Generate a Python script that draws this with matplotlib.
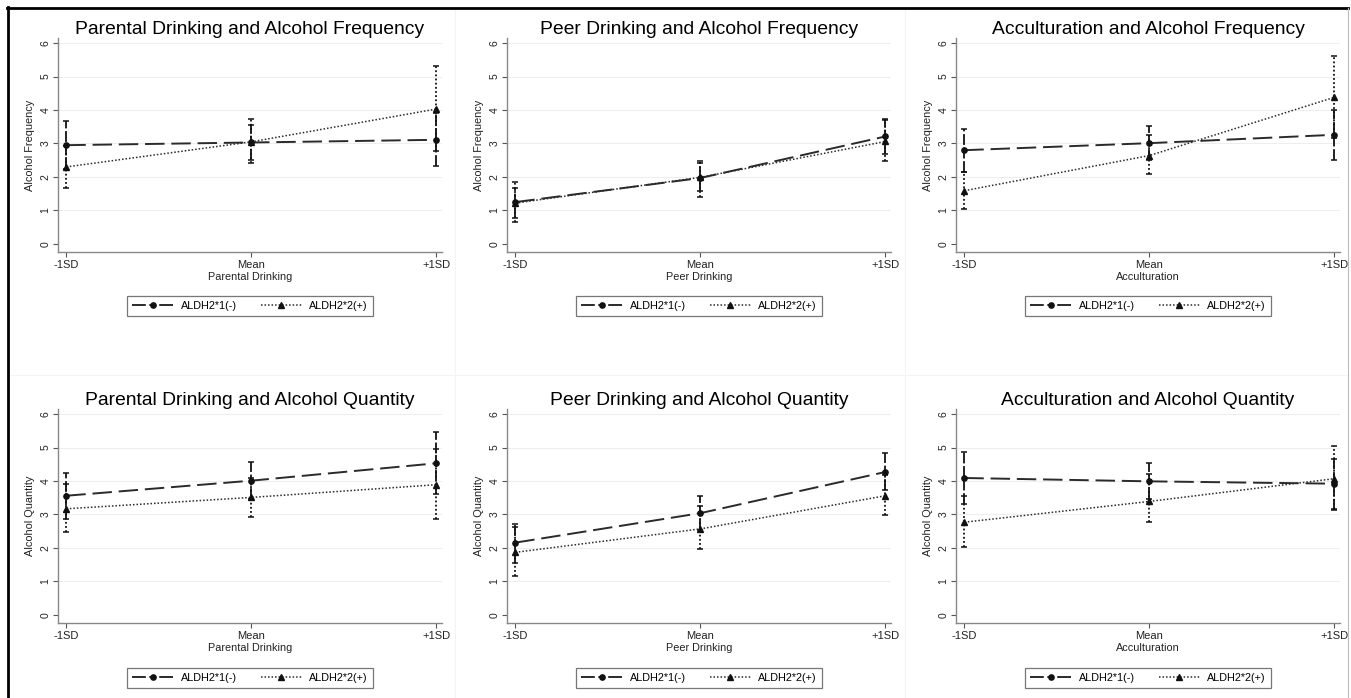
import matplotlib
matplotlib.use("Agg")
import matplotlib.pyplot as plt
from matplotlib.lines import Line2D

plt.rcParams['font.family'] = ['Liberation Sans', 'DejaVu Sans']

# Data
x_labels = ['-1SD', 'Mean', '+1SD']
titles = ['Parental Drinking and Alcohol Frequency', 'Peer Drinking and Alcohol Frequency',
          'Acculturation and Alcohol Frequency', 'Parental Drinking and Alcohol Quantity',
          'Peer Drinking and Alcohol Quantity', 'Acculturation and Alcohol Quantity']
x_titles = ['Parental Drinking', 'Peer Drinking', 'Acculturation'] * 2
y_titles = ['Alcohol Frequency'] * 3 + ['Alcohol Quantity'] * 3
series_names = ['ALDH2*1(-)', 'ALDH2*2(+)']

aldh1_mean = [[2.95, 3.03, 3.11], [1.25, 1.97, 3.21], [2.80, 3.01, 3.26],
              [3.56, 4.01, 4.53], [2.16, 3.04, 4.27], [4.09, 3.99, 3.92]]
aldh1_lo = [[2.25, 2.50, 2.32], [0.78, 1.57, 2.69], [2.15, 2.52, 2.52],
            [2.87, 3.46, 3.61], [1.56, 2.54, 3.72], [3.31, 3.45, 3.14]]
aldh1_hi = [[3.66, 3.56, 3.91], [1.67, 2.42, 3.73], [3.43, 3.53, 4.01],
            [4.24, 4.56, 5.45], [2.72, 3.54, 4.83], [4.88, 4.54, 4.66]]

aldh2_mean = [[2.30, 3.05, 4.03], [1.22, 1.99, 3.06], [1.59, 2.64, 4.38],
              [3.17, 3.51, 3.89], [1.87, 2.57, 3.56], [2.77, 3.39, 4.07]]
aldh2_lo = [[1.67, 2.42, 2.78], [0.65, 1.40, 2.47], [1.04, 2.10, 3.15],
            [2.47, 2.92, 2.88], [1.15, 1.97, 2.99], [2.02, 2.77, 3.16]]
aldh2_hi = [[2.92, 3.73, 5.30], [1.84, 2.49, 3.70], [2.15, 3.25, 5.60],
            [3.92, 4.10, 4.95], [2.64, 3.24, 4.19], [3.54, 4.20, 5.05]]

W, H = 1351, 698
fig = plt.figure(figsize=(W / 100, H / 100), dpi=100)

lefts = [58, 507, 956]
bottoms = [252, 623]
ax_w, ax_h = 384, 214

dash_ls = (0, (10, 3.5))
dot_ls = (0, (1, 1.3))
legend_dash = (0, (7.1, 1.8, 3.3, 1.8))
pos = [0, 1, 2]

for i in range(6):
    r, c = divmod(i, 3)
    ax = fig.add_axes([lefts[c] / W, 1 - bottoms[r] / H, ax_w / W, ax_h / H])

    for y in range(1, 7):
        ax.axhline(y, color='#eeeeee', lw=0.8, zorder=0)

    for mean, lo, hi, ls, mk in [
            (aldh1_mean[i], aldh1_lo[i], aldh1_hi[i], dash_ls, 'o'),
            (aldh2_mean[i], aldh2_lo[i], aldh2_hi[i], dot_ls, '^')]:
        err = [[m - l for m, l in zip(mean, lo)], [h - m for m, h in zip(mean, hi)]]
        eb = ax.errorbar(pos, mean, yerr=err, fmt='none', ecolor='#111111',
                         elinewidth=1.3, capsize=2.5, capthick=1.1, zorder=3)
        eb[2][0].set_linestyle((0, (6, 1.5)) if ls == dash_ls else dot_ls)
        ax.plot(pos, mean, color='#2a2a2a', lw=1.4 if ls == dash_ls else 1.1,
                linestyle=ls, marker=mk, markersize=3.8, markerfacecolor='#111111',
                markeredgecolor='#111111', zorder=4)

    ax.set_xlim(-0.045, 2.03)
    ax.set_ylim(-0.24, 6.15)
    ax.set_xticks(pos)
    ax.set_xticklabels(x_labels, fontsize=8)
    ax.set_yticks(range(7))
    ax.set_yticklabels([str(v) for v in range(7)], fontsize=7.5, rotation=90, va='center')
    ax.tick_params(axis='both', colors='#555555', labelcolor='#222222', length=3.5,
                   width=0.8, pad=2)
    for s in ['top', 'right']:
        ax.spines[s].set_visible(False)
    for s in ['left', 'bottom']:
        ax.spines[s].set_color('#888888')
        ax.spines[s].set_linewidth(1.0)

    ax.set_title(titles[i], fontsize=13.9, pad=3)
    ax.set_xlabel(x_titles[i], fontsize=7.8, labelpad=2, color='#222222')
    ax.set_ylabel(y_titles[i], fontsize=7.9, labelpad=4, color='#222222')

    handles = [Line2D([], [], color='#2a2a2a', lw=1.4, linestyle=legend_dash, marker='o',
                      markersize=3.8, markerfacecolor='#111111', markeredgecolor='#111111'),
               Line2D([], [], color='#2a2a2a', lw=1.1, linestyle=dot_ls, marker='^',
                      markersize=3.8, markerfacecolor='#111111', markeredgecolor='#111111')]
    leg = ax.legend(handles, series_names, loc='center',
                    bbox_to_anchor=(0.5, -0.252 if r == 0 else -0.257),
                    ncol=2, fontsize=7.8, frameon=True, fancybox=False,
                    handlelength=3.8, columnspacing=2.2, borderpad=0.45,
                    handletextpad=0.7)
    leg.get_frame().set_edgecolor('#555555')
    leg.get_frame().set_linewidth(0.9)

# faint separators between the combined graphs
for xs in [455, 905]:
    fig.add_artist(Line2D([xs / W, xs / W], [0, 1 - 10 / H], color='#f4f4f4', lw=0.8))
fig.add_artist(Line2D([10 / W, 1 - 3 / W], [1 - 375 / H, 1 - 375 / H], color='#f4f4f4', lw=0.8))

# outer frame: heavy left and top, light right
fig.add_artist(Line2D([7.5 / W, 7.5 / W], [0, 1 - 6.5 / H], color='black', lw=2.0))
fig.add_artist(Line2D([6.5 / W, 1348 / W], [1 - 7.5 / H, 1 - 7.5 / H], color='black', lw=2.0))
fig.add_artist(Line2D([1348 / W, 1348 / W], [0, 1 - 7.5 / H], color='#bbbbbb', lw=0.8))

fig.savefig('out.png', dpi=100)
